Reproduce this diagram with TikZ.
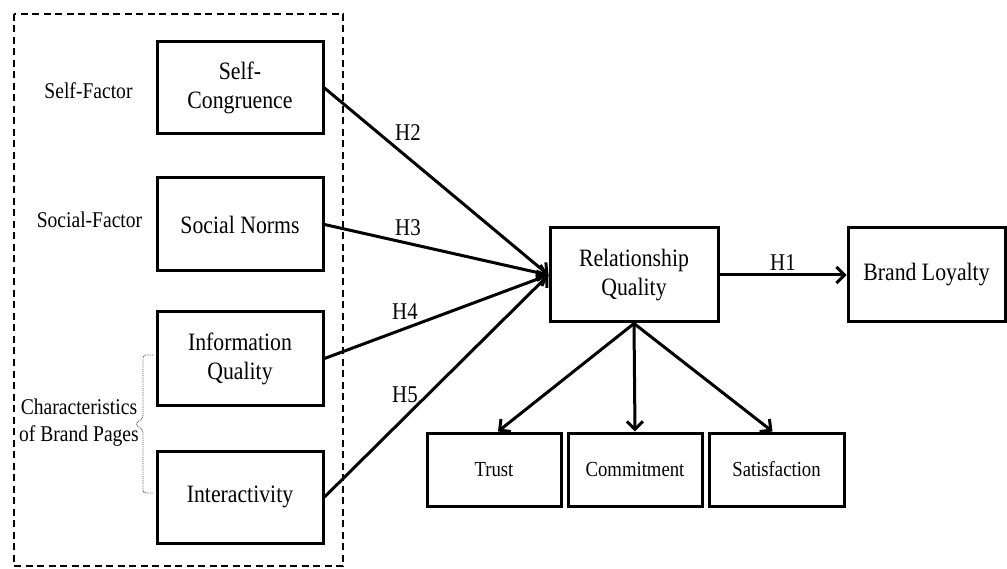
\documentclass[tikz,border=0pt]{standalone}
\usepackage{fontspec}
\setmainfont[FakeStretch=0.87]{Liberation Serif}
\usetikzlibrary{arrows.meta}
\tikzset{
  box/.style={draw, line width=3pt, inner sep=0pt, align=center, font=\fontsize{25}{29}\selectfont},
  smallbox/.style={box, font=\fontsize{21.5}{25}\selectfont},
  side/.style={inner sep=0pt, align=center, font=\fontsize{22.5}{27}\selectfont},
  hyp/.style={inner sep=0pt, font=\fontsize{24}{28}\selectfont},
  arr/.style={line width=3pt, -{Straight Barb[length=8pt,width=16pt,line width=3pt]}},
  group/.style={line width=2.4pt, dash pattern=on 7pt off 4.5pt},
  brace/.style={line width=0.9pt, densely dotted, black!70}
}
\begin{document}
\begin{tikzpicture}[x=1pt,y=-1pt]
\useasboundingbox (0,0) rectangle (1007,569);
% group frame
\draw[group] (14,14) rectangle (343,566);
% left boxes
\node[box, minimum width=166pt, minimum height=92pt] (sc) at (240,88) {Self-\\Congruence};
\node[box, minimum width=166pt, minimum height=93pt] (sn) at (240,224.5) {Social Norms};
\node[box, minimum width=166pt, minimum height=93pt] (iq) at (240,358.5) {Information\\Quality};
\node[box, minimum width=166pt, minimum height=92pt] (ia) at (240,497) {Interactivity};
% side labels
\node[side] (sf) at (88.5,91) {Self-Factor};
\node[side] (sof) at (89.5,220) {Social-Factor};
\node[side] (cb) at (79,423) {Characteristics\\of Brand Pages};
\coordinate (b1) at (153,355);
\coordinate (b2) at (153,493);
\draw[brace, rounded corners=3pt] (b1) -- (143,355) -- (143,418) -- (135,424) -- (143,430) -- (143,493) -- (b2);
% central boxes
\node[box, minimum width=168pt, minimum height=94pt] (rq) at (634,275) {Relationship\\Quality};
\node[box, minimum width=157pt, minimum height=94pt] (bl) at (926.5,275) {Brand Loyalty};
\node[smallbox, minimum width=134pt, minimum height=73pt] (tr) at (494,469.5) {Trust};
\node[smallbox, minimum width=134pt, minimum height=73pt] (cm) at (635,469.5) {Commitment};
\node[smallbox, minimum width=135pt, minimum height=73pt] (sa) at (776.5,469.5) {Satisfaction};
% arrows
\draw[arr] (sc.east) -- (rq.west);
\draw[arr] (sn.east) -- (rq.west);
\draw[arr] (iq.east) -- (rq.west);
\draw[arr] (ia.east) -- (rq.west);
\draw[arr] (rq.east) -- (bl.west);
\draw[arr] (rq.south) -- ([xshift=4pt]tr.north);
\draw[arr] (rq.south) -- (cm.north);
\draw[arr] (rq.south) -- ([xshift=-4pt]sa.north);
% hypothesis labels
\node[hyp] (h2) at (408,133) {H2};
\node[hyp] (h3) at (408,228) {H3};
\node[hyp] (h4) at (405,312) {H4};
\node[hyp] (h5) at (405,395) {H5};
\node[hyp] (h1) at (783,263) {H1};
\end{tikzpicture}
\end{document}
